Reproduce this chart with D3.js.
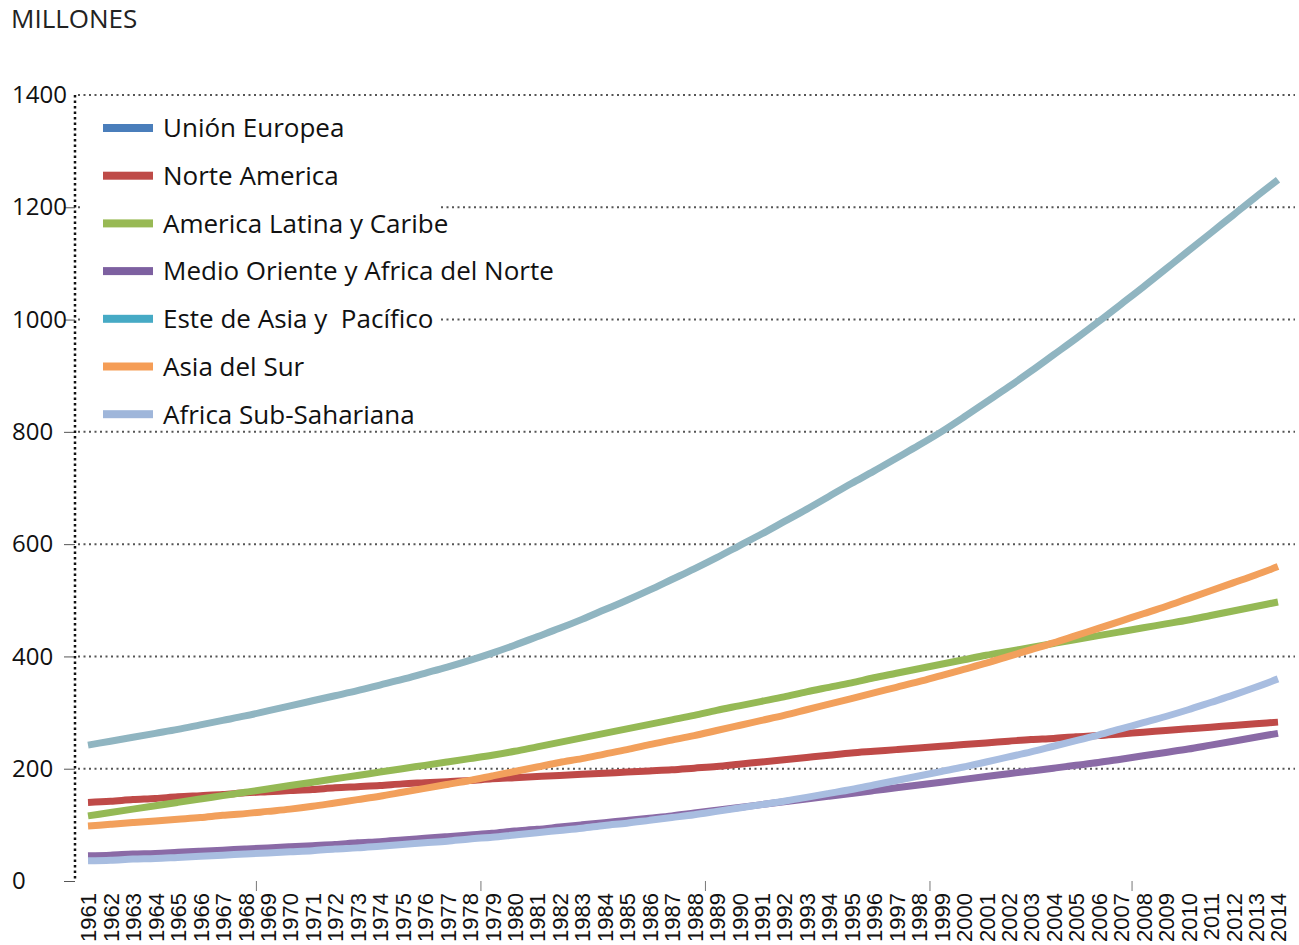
<!DOCTYPE html>
<html>
<head>
<meta charset="utf-8">
<script src="https://cdn.jsdelivr.net/npm/d3@7"></script>
<style>
  body { margin: 0; background: #fff; }
  svg { display: block; }
</style>
</head>
<body>
<div id="chart"></div>
<script>
// ------------------------------------------------------
// DATA
// ------------------------------------------------------

var years = d3.range(1961, 2015);
var yTicks = [0, 200, 400, 600, 800, 1000, 1200, 1400];

var seriesNames = ["Unión Europea", "Norte America", "America Latina y Caribe",
  "Medio Oriente y Africa del Norte", "Este de Asia y  Pacífico", "Asia del Sur",
  "Africa Sub-Sahariana"];

// no line drawn for this one in the original
var unionEuropea = [];

var norteAmerica = [140, 142, 145, 147, 150, 152, 154, 157, 159, 161,
  163, 166, 168, 170, 173, 175, 177, 179, 182, 184,
  186, 188, 190, 192, 194, 196, 198, 201, 204, 208,
  212, 216, 220, 224, 228, 231, 234, 237, 240, 243,
  246, 249, 252, 254, 257, 259, 262, 265, 268, 271,
  274, 277, 280, 283];

var americaLatina = [116, 122, 128, 134, 140, 146, 152, 158, 164, 170,
  176, 182, 188, 194, 200, 206, 212, 218, 224, 231,
  239, 247, 255, 263, 271, 279, 287, 295, 304, 312,
  320, 328, 337, 345, 353, 362, 370, 378, 386, 394,
  402, 409, 416, 423, 430, 437, 444, 451, 458, 465,
  473, 481, 489, 497];

var medioOriente = [45, 46, 48, 49, 51, 53, 55, 57, 59, 61,
  63, 65, 68, 70, 73, 76, 79, 82, 85, 89,
  92, 96, 100, 104, 108, 112, 116, 121, 126, 131,
  136, 141, 146, 151, 156, 161, 166, 171, 176, 181,
  186, 191, 196, 201, 206, 211, 217, 223, 229, 235,
  242, 249, 256, 263];

var esteAsia = [242, 249, 256, 263, 270, 278, 286, 294, 303, 312,
  321, 330, 339, 349, 359, 370, 381, 393, 406, 420,
  435, 450, 466, 483, 500, 518, 537, 556, 576, 597,
  618, 640, 662, 685, 708, 730, 753, 776, 800, 826,
  853, 880, 908, 937, 966, 996, 1027, 1058, 1090, 1122,
  1154, 1186, 1218, 1249];

var asiaSur = [98, 101, 104, 107, 110, 113, 117, 120, 124, 128,
  133, 139, 145, 151, 158, 165, 172, 179, 187, 195,
  203, 211, 218, 226, 234, 243, 251, 259, 268, 277,
  286, 295, 305, 315, 325, 335, 345, 355, 366, 377,
  388, 400, 412, 424, 437, 450, 463, 476, 489, 503,
  517, 531, 545, 560];

var africaSub = [36, 37, 39, 40, 42, 44, 46, 48, 50, 52,
  54, 57, 59, 62, 65, 68, 71, 75, 78, 82,
  86, 90, 94, 99, 103, 108, 113, 118, 124, 130,
  136, 142, 149, 156, 163, 171, 179, 187, 195, 203,
  212, 221, 230, 240, 250, 260, 271, 282, 293, 305,
  318, 331, 345, 360];

var seriesValues = [unionEuropea, norteAmerica, americaLatina, medioOriente,
  esteAsia, asiaSur, africaSub];

var legendColors = ["#4a7ebb", "#be4b48", "#98b954", "#7d60a0", "#46aac5", "#f59d56", "#9fb6da"];
var lineColors = ["#4a7ebb", "#bf4a48", "#95b955", "#8a6aa6", "#90b5c1", "#f2a05c", "#a8bde0"];

// ------------------------------------------------------
// SETUP
// ------------------------------------------------------

var width = 1299, height = 945;
var uiFont = "'Open Sans', sans-serif";

var svg = d3.select("#chart").append("svg")
  .attr("width", width)
  .attr("height", height);

var x = d3.scalePoint().domain(years).range([88, 1278]);
var y = d3.scaleLinear().domain([0, 1400]).range([881, 95]);

// title
svg.append("text")
  .attr("x", 11)
  .attr("y", 28)
  .style("font-family", uiFont)
  .style("font-size", "26px")
  .attr("fill", "#222")
  .text("MILLONES");

// ------------------------------------------------------
// GRID + AXES
// ------------------------------------------------------

svg.append("g").selectAll("line")
  .data(yTicks.filter(function (d) { return d > 0; }))
  .enter().append("line")
  .attr("x1", 78).attr("x2", 1295)
  .attr("y1", function (d) { return y(d); })
  .attr("y2", function (d) { return y(d); })
  .attr("stroke", "#555")
  .attr("stroke-width", 2)
  .attr("stroke-dasharray", "2,3.5");

var yAxis = svg.append("g")
  .attr("transform", "translate(75,0)")
  .call(d3.axisLeft(y).tickValues(yTicks).tickSize(11).tickPadding(0).tickFormat(d3.format("d")));
yAxis.select(".domain").remove();
yAxis.selectAll(".tick line")
  .attr("stroke", "#555")
  .attr("opacity", function (d) { return d === 1400 ? 0 : 1; });
yAxis.selectAll(".tick text")
  .attr("x", -63)
  .attr("text-anchor", "start")
  .attr("dy", "0.32em")
  .style("font-family", uiFont)
  .style("font-size", "24px")
  .attr("fill", "#111");

// dotted vertical axis
svg.append("line")
  .attr("x1", 75).attr("x2", 75)
  .attr("y1", y(1400)).attr("y2", y(0))
  .attr("stroke", "#111")
  .attr("stroke-width", 2.5)
  .attr("stroke-dasharray", "2.5,3");

// x labels (rotated)
var xAxis = svg.append("g")
  .attr("transform", "translate(0," + 893 + ")")
  .call(d3.axisBottom(x).tickSize(0).tickPadding(0));
xAxis.select(".domain").remove();
xAxis.selectAll(".tick text")
  .attr("transform", "rotate(-90)")
  .attr("text-anchor", "end")
  .attr("x", 0)
  .attr("y", 0)
  .attr("dx", 0)
  .attr("dy", "0.36em")
  .style("font-family", "'Liberation Sans', Arial, sans-serif")
  .style("font-size", "22px")
  .attr("fill", "#111");

// small category ticks
svg.append("g").selectAll("line")
  .data([1968, 1978, 1988, 1998, 2007])
  .enter().append("line")
  .attr("x1", function (d) { return x(d) + x.step() / 2; })
  .attr("x2", function (d) { return x(d) + x.step() / 2; })
  .attr("y1", 881).attr("y2", 891)
  .attr("stroke", "#777")
  .attr("stroke-width", 1);

// ------------------------------------------------------
// LINES
// ------------------------------------------------------

var line = d3.line()
  .x(function (d, i) { return x(years[i]); })
  .y(function (d) { return y(d); })
  .curve(d3.curveMonotoneX);

seriesValues.forEach(function (vals, i) {
  if (vals.length === 0) return;
  svg.append("path")
    .datum(vals)
    .attr("d", line)
    .attr("fill", "none")
    .attr("stroke", lineColors[i])
    .attr("stroke-width", 7);
});

// ------------------------------------------------------
// LEGEND
// ------------------------------------------------------

svg.append("rect")
  .attr("x", 80).attr("y", 103)
  .attr("width", 360).attr("height", 322)
  .attr("fill", "#fff");

var legend = svg.append("g").selectAll("g")
  .data(seriesNames)
  .enter().append("g")
  .attr("transform", function (d, i) { return "translate(103," + (128 + i * 47.7) + ")"; });

legend.append("rect")
  .attr("x", 0).attr("y", -4)
  .attr("width", 50).attr("height", 8)
  .attr("fill", function (d, i) { return legendColors[i]; });

legend.append("text")
  .attr("x", 60)
  .attr("y", 0)
  .attr("dy", "0.36em")
  .style("font-family", uiFont)
  .style("font-size", "26px")
  .style("white-space", "pre")
  .attr("fill", "#111")
  .text(function (d) { return d; });
</script>
</body>
</html>
